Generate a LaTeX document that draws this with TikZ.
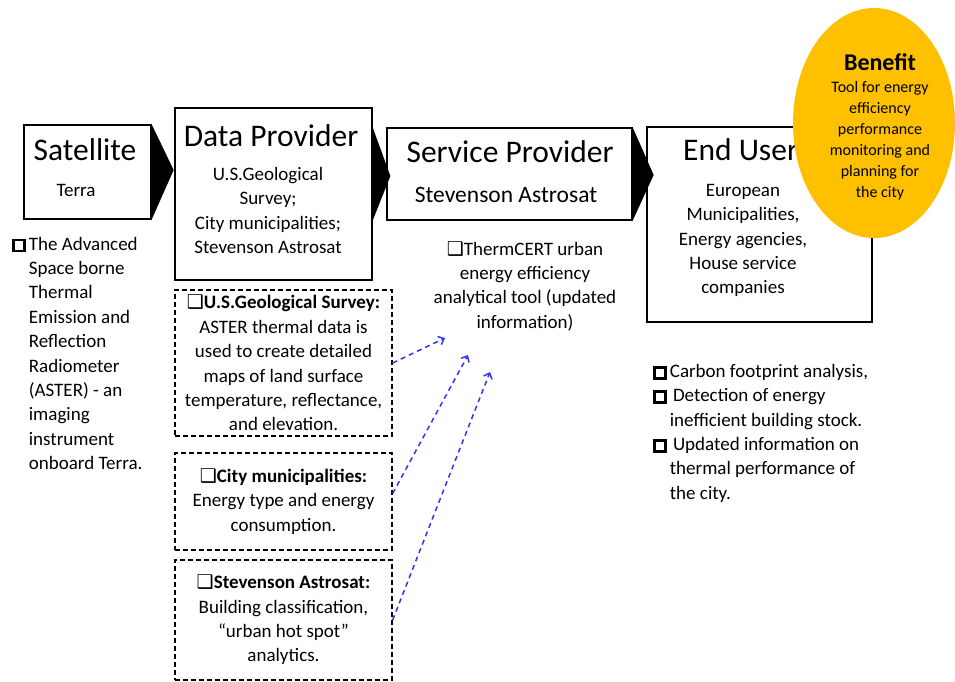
\documentclass[tikz,border=0pt]{standalone}
\usepackage{fontspec}
\setmainfont{Carlito}
\newfontfamily\dejavu{DejaVu Sans}
\usetikzlibrary{shapes.geometric,arrows.meta,calc}
\definecolor{gold}{HTML}{FFC000}
\definecolor{arrblue}{RGB}{50,50,255}
\newcommand\hsq{\raisebox{0.02em}{\setlength{\fboxsep}{0pt}\setlength{\fboxrule}{2.5pt}\fbox{\rule{0pt}{8.5pt}\hspace{8.5pt}}}}
\newcommand\shsq{{\dejavu\fontsize{19}{22}\selectfont\char"2751}}
\tikzset{
  solidbox/.style={draw=black, line width=1.3pt, inner sep=0pt},
  dashbox/.style={draw=black, line width=1.3pt, dash pattern=on 5pt off 3pt, inner sep=0pt, align=center, font=\bodyfont},
  titletext/.style={inner sep=0pt, font=\fontsize{31.5}{36}\selectfont},
  bodytext/.style={inner sep=0pt, align=center, font=\bodyfont},
  chevron/.style={fill=black},
  feed/.style={draw=arrblue, line width=1.5pt, dash pattern=on 5pt off 4pt, -{Straight Barb[length=5pt,width=9pt]}},
}
\newcommand\bodyfont{\fontsize{19}{24.4}\selectfont}
\begin{document}
\begin{tikzpicture}[x=1pt,y=-1pt]
\useasboundingbox (0,0) rectangle (955,682);
% main boxes
\node[solidbox, minimum width=127, minimum height=94] (sat) at (87.5,172) {};
\node[solidbox, minimum width=197, minimum height=172] (dp) at (273.5,194) {};
\node[solidbox, minimum width=245, minimum height=92] (sp) at (509.5,174) {};
\node[solidbox, minimum width=225, minimum height=195] (eu) at (759.5,224.5) {};
% chevrons
\fill[chevron] (sat.north east) -- ($(sat.east)+(22,-2)$) -- (sat.south east) -- cycle;
\fill[chevron] (dp.east |- sp.north) -- ($(sp.west)+(4,2)$) -- (dp.east |- sp.south) -- cycle;
\fill[chevron] (sp.north east) -- ($(sp.east)+(21,1)$) -- (sp.south east) -- cycle;
% titles and contents
\node[titletext] (sattitle) at (85,150) {Satellite};
\node[bodytext] (satsub) at (76,190) {Terra};
\node[titletext] (dptitle) at (271,136) {Data Provider};
\node[bodytext] (dpbody) at (268,210.5) {U.S.Geological\\Survey;\\City municipalities;\\Stevenson Astrosat};
\node[titletext] (sptitle) at (510,152) {Service Provider};
\node[inner sep=0pt, font=\fontsize{23.5}{28}\selectfont] (spsub) at (506,195) {Stevenson Astrosat};
\node[titletext, anchor=west] (eutitle) at (683,150) {End User};
\node[bodytext] (eubody) at (743,240.5) {European\\Municipalities,\\Energy agencies,\\House service\\companies};
% benefit ellipse
\node[ellipse, fill=gold, minimum width=162, minimum height=230, inner sep=0pt] (ben) at (874,123) {};
\node[inner sep=0pt, font=\fontsize{24}{28}\selectfont\bfseries] (bentitle) at (880,62) {Benefit};
\node[inner sep=0pt, align=center, font=\fontsize{16}{21}\selectfont] (benbody) at (880,140.5) {Tool for energy\\efficiency\\performance\\monitoring and\\planning for\\the city};
% left description
\node[inner sep=0pt, anchor=west, font=\bodyfont] (satdesc) at (12,355) {\begin{tabular}[t]{@{}l@{\,}l@{}}\hsq & The Advanced\\ & Space borne\\ & Thermal\\ & Emission and\\ & Reflection\\ & Radiometer\\ & (ASTER) - an\\ & imaging\\ & instrument\\ & onboard Terra.\end{tabular}};
% service provider tool
\node[bodytext] (tool) at (525,286) {\shsq ThermCERT urban\\energy efficiency\\analytical tool (updated\\information)};
% end user results
\node[inner sep=0pt, anchor=west, font=\bodyfont] (results) at (653,433.5) {\begin{tabular}[t]{@{}l@{\,}l@{}}\hsq & Carbon footprint analysis,\\ \hsq & \,Detection of energy\\ & inefficient building stock.\\ \hsq & \,Updated information on\\ & thermal performance of\\ & the city.\end{tabular}};
% dashed data boxes
\node[dashbox, minimum width=217, minimum height=146] (usgs) at (283.5,363) {{\bfseries\shsq U.S.Geological Survey:}\\ASTER thermal data is\\used to create detailed\\maps of land surface\\temperature, reflectance,\\and elevation.};
\node[dashbox, minimum width=217, minimum height=97] (city) at (283.5,501.5) {{\bfseries\shsq City municipalities:}\\Energy type and energy\\consumption.};
\node[dashbox, minimum width=217, minimum height=120] (stev) at (283.5,620) {{\bfseries\shsq Stevenson Astrosat:}\\Building classification,\\``urban hot spot''\\analytics.};
% feed arrows
\coordinate (t1) at (445,338);
\coordinate (t2) at (468,355);
\coordinate (t3) at (490,372);
\draw[feed] (usgs.east) -- (t1);
\draw[feed] ($(city.east)+(0,-8)$) -- (t2);
\draw[feed] (stev.east) -- (t3);
\end{tikzpicture}
\end{document}
